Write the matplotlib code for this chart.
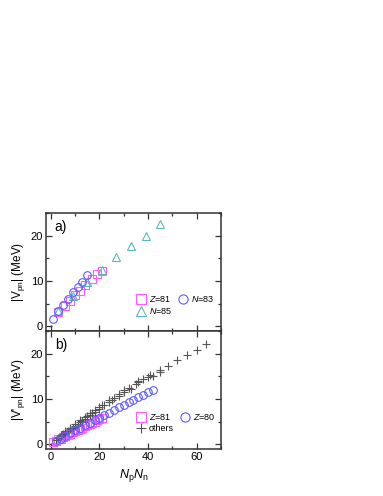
import numpy as np
import matplotlib
matplotlib.use("Agg")
import matplotlib.pyplot as plt
from matplotlib.ticker import MultipleLocator

plt.rcParams['font.family'] = ['Liberation Sans', 'DejaVu Sans']
plt.rcParams['mathtext.fontset'] = 'custom'
plt.rcParams['mathtext.rm'] = 'Liberation Sans'
plt.rcParams['mathtext.it'] = 'Liberation Sans:italic'
plt.rcParams['mathtext.bf'] = 'Liberation Sans:bold'

# panel a) |V_pn|
a_z81_x = [3, 6, 8, 10, 12, 14, 17, 19, 21]
a_z81_y = [3.2, 4.6, 5.6, 6.9, 7.9, 9.1, 10.4, 11.5, 12.3]
a_n83_x = [1, 3, 5, 7, 9, 11, 13, 15]
a_n83_y = [1.7, 3.4, 4.7, 6.0, 7.5, 8.7, 9.9, 11.3]
a_n85_x = [3, 9, 15, 21, 27, 33, 39, 45]
a_n85_y = [3.5, 6.6, 9.9, 12.5, 15.3, 17.7, 19.9, 22.5]

# panel b) |V'_pn|
b_z81_x = [1, 2, 3, 4, 5, 6, 7, 8, 9, 10, 11, 12, 13, 14, 15, 16, 17, 18, 19, 20, 21]
b_z81_y = [0.5, 0.8, 1.1, 1.3, 1.6, 1.9, 2.1, 2.4, 2.7, 2.9, 3.2, 3.4, 3.7, 4.0, 4.2, 4.5,
           4.7, 5.0, 5.3, 5.5, 5.8]
b_z80_x = [2, 4, 6, 8, 10, 12, 14, 16, 18, 20, 22, 24, 26, 28, 30, 32, 34, 36, 38, 40, 42]
b_z80_y = [0.8, 1.3, 1.9, 2.5, 3.1, 3.6, 4.2, 4.8, 5.3, 5.9, 6.4, 7.0, 7.6, 8.2, 8.7, 9.3,
           9.8, 10.4, 11.0, 11.5, 12.1]
b_oth_x = [2, 3, 4, 4, 5, 6, 6, 7, 8, 8, 9, 10, 10, 11, 12, 12, 13, 14, 14, 15, 16, 16, 17,
           18, 18, 20, 20, 21, 22, 24, 24, 25, 26, 28, 28, 30, 30, 32, 33, 35, 36, 36, 38,
           40, 41, 42, 45, 45, 48, 52, 56, 60, 64]
b_oth_y = [1.0, 1.4, 1.8, 2.0, 2.2, 2.6, 2.9, 3.0, 3.3, 3.6, 3.7, 4.0, 4.4, 4.5, 4.9, 5.3,
           5.2, 5.6, 6.0, 6.2, 6.4, 6.9, 7.0, 7.2, 7.6, 7.8, 8.3, 8.6, 8.8, 9.3, 9.8, 9.7,
           10.3, 10.6, 11.2, 11.5, 12.0, 12.5, 12.2, 13.3, 13.7, 14.0, 14.4, 14.9, 15.3,
           15.0, 16.0, 16.5, 17.2, 18.5, 19.6, 20.9, 22.2]

c_sq = '#ff5cff'
c_ci = '#5c5cff'
c_tr = '#5cb8b8'
c_pl = '#555555'

fig = plt.figure(figsize=(3.83, 4.96), dpi=100)
ax1 = fig.add_axes([0.120, 0.3327, 0.457, 0.2379])
ax2 = fig.add_axes([0.120, 0.0948, 0.457, 0.2379], sharex=ax1)

mk = dict(linestyle='none', markerfacecolor='none', markersize=5.5, markeredgewidth=0.8)

ax1.plot(a_z81_x, a_z81_y, marker='s', color=c_sq, label='$Z$=81', **mk)
ax1.plot(a_n85_x, a_n85_y, marker='^', color=c_tr, label='$N$=85', **mk)
ax1.plot(a_n83_x, a_n83_y, marker='o', color=c_ci, label='$N$=83', **mk)

ax2.plot(b_z81_x, b_z81_y, marker='s', color=c_sq, label='$Z$=81', **mk)
ax2.plot(b_oth_x, b_oth_y, marker='+', color=c_pl, label='others', linestyle='none',
         markersize=6, markeredgewidth=0.8)
ax2.plot(b_z80_x, b_z80_y, marker='o', color=c_ci, label='$Z$=80', **mk)

for ax in (ax1, ax2):
    ax.set_xlim(-2, 70)
    ax.set_ylim(-1, 25)
    ax.xaxis.set_major_locator(MultipleLocator(20))
    ax.xaxis.set_minor_locator(MultipleLocator(10))
    ax.yaxis.set_major_locator(MultipleLocator(10))
    ax.yaxis.set_minor_locator(MultipleLocator(5))
    ax.tick_params(which='both', direction='in', top=True, right=True, labelsize=8,
                   width=0.9, color='#333333', pad=2)
    ax.tick_params(which='major', length=4)
    ax.tick_params(which='minor', length=2.5)
    for s in ax.spines.values():
        s.set_linewidth(1.1)
        s.set_color('#333333')
    ax.legend(ncol=2, frameon=False, fontsize=6.5, loc='upper left',
              bbox_to_anchor=(0.49, 0.34), handletextpad=0.3, columnspacing=0.6,
              labelspacing=0.15, borderaxespad=0, handlelength=1.2, markerscale=1.2)

ax1.tick_params(labelbottom=False)
ax1.text(0.05, 0.88, 'a)', transform=ax1.transAxes, fontsize=10, va='center')
ax2.text(0.05, 0.88, 'b)', transform=ax2.transAxes, fontsize=10, va='center')
ax1.set_ylabel(r'|V$_{\mathrm{pn}}$| (MeV)', fontsize=8.5, labelpad=3)
ax2.set_ylabel(r"|V'$_{\mathrm{pn}}$| (MeV)", fontsize=8.5, labelpad=3)
ax2.set_xlabel(r'$N_{\mathrm{p}}N_{\mathrm{n}}$', fontsize=9, labelpad=4)

fig.savefig('out.png', dpi=100)
